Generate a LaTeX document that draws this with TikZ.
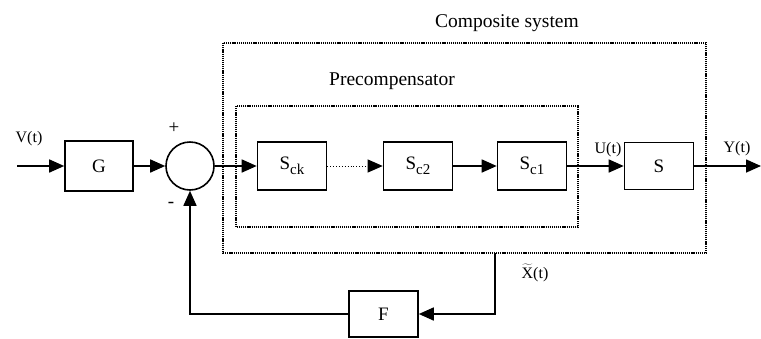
\documentclass[tikz,border=0pt]{standalone}
\usepackage{fontspec}
\setmainfont{Liberation Serif}
\usetikzlibrary{arrows.meta,calc}

% subscript set large and low, as in the block labels
\newcommand\blocksub[1]{\raisebox{-5.5pt}{\fontsize{15}{15}\selectfont #1}}

\tikzset{
  block/.style={draw, line width=1.6pt, minimum width=69pt, minimum height=48pt,
                inner sep=0pt, font=\fontsize{19}{19}\selectfont},
  sumnode/.style={draw, circle, line width=1.6pt, minimum size=48pt, inner sep=0pt},
  wire/.style={line width=1.6pt},
  sig/.style={wire, -{Triangle[length=15pt,width=13pt]}},
  frame/.style={line width=1.3pt, dash pattern=on 1.2pt off 0.9pt},
  siglabel/.style={font=\fontsize{16}{16}\selectfont, inner sep=0pt, anchor=base},
  title/.style={font=\fontsize{19.5}{19.5}\selectfont, inner sep=0pt, anchor=base},
}

\begin{document}
\begin{tikzpicture}[x=1pt,y=-1pt]
\useasboundingbox (0,0) rectangle (761,338);

% subsystem frames
\draw[frame] (223,43) rectangle (706,253);
\draw[frame] (236,106) rectangle (578,227);
\node[title] (tcomp) at (507,27) {Composite system};
\node[title] (tpre) at (392,85) {Precompensator};

% blocks
\node[block, minimum width=68pt, minimum height=50pt] (G) at (99,166) {G};
\node[sumnode] (sum) at (190,166) {};
\node[block] (Sck) at (292,166) {S\blocksub{ck}};
\node[block] (Sc2) at (418,166) {S\blocksub{c2}};
\node[block] (Sc1) at (532,166) {S\blocksub{c1}};
\node[block, minimum height=47pt] (S) at (659,166) {S};
\node[block, minimum height=46pt] (F) at (383.5,314) {F};

% end points of the open connectors
\coordinate (vin) at (17,166);
\coordinate (yout) at (761,166);
\coordinate (xtap) at (495,253);

% forward path
\draw[sig] (vin) -- (G);
\draw[sig] (G) -- (sum);
\draw[sig] (sum) -- (Sck);
\draw[line width=0.9pt, dotted, -{Triangle[length=15pt,width=13pt]}] (Sck) -- (Sc2);
\draw[sig] (Sc2) -- (Sc1);
\draw[sig] (Sc1) -- (S);
\draw[sig] (S) -- (yout);

% feedback path
\draw[sig] (xtap) |- (F);
\draw[sig] (F) -| (sum);

% signal labels
\node[siglabel] (lv) at (29,142) {V(t)};
\node[siglabel] (lu) at (608,153) {U(t)};
\node[siglabel] (ly) at (737,152) {Y(t)};
\node[siglabel] (lx) at (535,278) {$\widetilde{\mbox{X}}$(t)};
\node[siglabel, font=\fontsize{19}{19}\selectfont] (lplus) at (174,133) {+};
\node[siglabel, font=\fontsize{19}{19}\selectfont] (lminus) at (171,207) {-};
\end{tikzpicture}
\end{document}
